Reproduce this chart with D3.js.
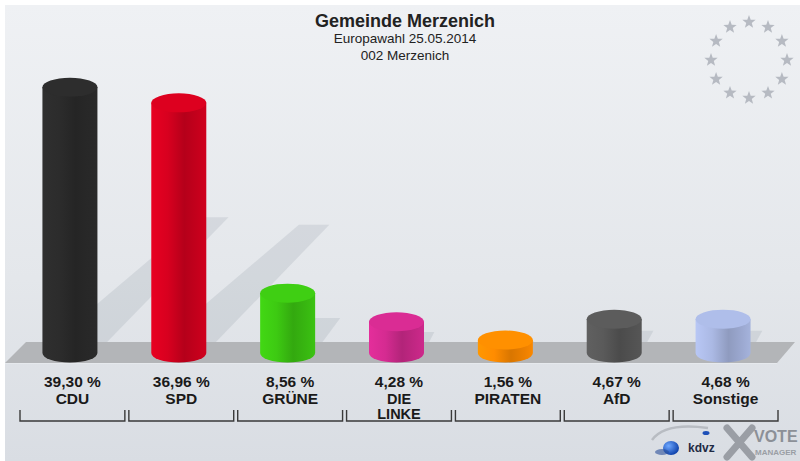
<!DOCTYPE html>
<html>
<head>
<meta charset="utf-8">
<script src="https://cdn.jsdelivr.net/npm/d3@7/dist/d3.min.js"></script>
<style>
  html, body { margin: 0; padding: 0; background: #ffffff; }
  svg { display: block; }
  text { font-family: "Liberation Sans", Arial, Helvetica, sans-serif; }
</style>
</head>
<body>
<svg id="chart" width="800" height="461"></svg>
<script>
// ---- data ----
const categories = ["CDU", "SPD", "GRÜNE", "DIE LINKE", "PIRATEN", "AfD", "Sonstige"];
const values = [39.30, 36.96, 8.56, 4.28, 1.56, 4.67, 4.68];
const valueLabels = ["39,30 %", "36,96 %", "8,56 %", "4,28 %", "1,56 %", "4,67 %", "4,68 %"];
const colors = ["#2b2b2b", "#d4001e", "#3cc612", "#d12a8e", "#ff8a00", "#585858", "#a8b6e0"];
const titleLines = ["Gemeinde Merzenich", "Europawahl 25.05.2014", "002 Merzenich"];

const W = 800, H = 461;
const svg = d3.select("#chart");
const defs = svg.append("defs");

// background
const bg = defs.append("linearGradient").attr("id", "bg").attr("x1", 0).attr("y1", 0).attr("x2", 0).attr("y2", 1);
bg.append("stop").attr("offset", 0).attr("stop-color", "#eff1f4");
bg.append("stop").attr("offset", 0.6).attr("stop-color", "#e4e7eb");
bg.append("stop").attr("offset", 1).attr("stop-color", "#d9dde3");
svg.append("rect").attr("x", 0).attr("y", 0).attr("width", W).attr("height", H).attr("fill", "#ffffff");
svg.append("rect").attr("x", 5).attr("y", 5).attr("width", W - 5).attr("height", H - 5).attr("fill", "url(#bg)");

// scales
const x = d3.scaleBand().domain(categories).range([18, 780]).padding(0);
const y = d3.scaleLinear().domain([0, 40]).range([350.5, 82.5]);
const barW = 55, rx = barW / 2, ry = 9.5;
const baseY = 353;     // bottom ellipse centre
const floorTop = 342, floorBottom = 363;
const cx = c => x(c) + x.bandwidth() / 2 - 2.5;

// shadows
const shadowG = svg.append("g");
categories.forEach((c, i) => {
  const xl = cx(c) - rx, xr = cx(c) + rx;
  const top = y(values[i]);
  const dy = 0.49 * (floorTop - top);
  const pts = [
    [xl - 2, floorTop + 10],
    [xr, floorTop + 10],
    [xr + 1.05 * dy, floorTop - dy],
    [xl + 1.26 * dy, floorTop - dy]
  ];
  shadowG.append("polygon")
    .attr("points", pts.map(p => p.join(",")).join(" "))
    .attr("fill", "rgb(120,128,140)")
    .attr("fill-opacity", 0.16);
});

// floor band
svg.append("polygon")
  .attr("points", [[5, floorBottom], [777, floorBottom], [795, floorTop], [26, floorTop]].map(p => p.join(",")).join(" "))
  .attr("fill", "#b3b5b8");
svg.append("line").attr("x1", 5).attr("x2", 777).attr("y1", floorBottom + 0.5).attr("y2", floorBottom + 0.5)
  .attr("stroke", "#e6e9ed").attr("stroke-width", 1);

// bars (cylinders)
categories.forEach((c, i) => {
  const col = d3.color(colors[i]);
  const gid = "g" + i;
  const g = defs.append("linearGradient").attr("id", gid).attr("x1", 0).attr("x2", 1).attr("y1", 0).attr("y2", 0);
  g.append("stop").attr("offset", 0).attr("stop-color", col.brighter(0.25));
  g.append("stop").attr("offset", 0.3).attr("stop-color", col.brighter(0.05));
  g.append("stop").attr("offset", 0.6).attr("stop-color", col.darker(0.45));
  g.append("stop").attr("offset", 0.85).attr("stop-color", col.darker(0.2));
  g.append("stop").attr("offset", 1).attr("stop-color", col.darker(0.05));
  const xl = cx(c) - rx, xr = cx(c) + rx;
  const top = y(values[i]);
  svg.append("path")
    .attr("d", `M${xl},${top} L${xl},${baseY} A${rx},${ry} 0 0 0 ${xr},${baseY} L${xr},${top} Z`)
    .attr("fill", `url(#${gid})`);
  svg.append("ellipse")
    .attr("cx", cx(c)).attr("cy", top).attr("rx", rx).attr("ry", ry)
    .attr("fill", col.brighter(0.12));
});

// labels
const lab = svg.append("g").attr("fill", "#1a1a1a").attr("font-weight", "bold").attr("text-anchor", "middle");
categories.forEach((c, i) => {
  const mx = x(c) + x.bandwidth() / 2;
  lab.append("text").attr("x", mx).attr("y", 387).attr("font-size", "15.5px").text(valueLabels[i]);
  const words = c.split(" ");
  const fs = words.length > 1 ? 14.5 : 15.5;
  words.forEach((w, k) => {
    lab.append("text").attr("x", mx).attr("y", 404 + k * 15).attr("font-size", fs + "px").text(w);
  });
});

// brackets
const br = svg.append("g").attr("stroke", "#3a3a3a").attr("stroke-width", 1.4).attr("fill", "none");
categories.forEach(c => {
  const l = x(c) + 2, r = x(c) + x.bandwidth() - 2;
  br.append("path").attr("d", `M${l},410 L${l},421 L${r},421 L${r},410`);
});

// title
svg.append("text").attr("x", 405).attr("y", 27).attr("text-anchor", "middle")
  .attr("font-size", "18px").attr("font-weight", "bold").attr("fill", "#222").text(titleLines[0]);
svg.append("text").attr("x", 405).attr("y", 43).attr("text-anchor", "middle")
  .attr("font-size", "13.5px").attr("fill", "#222").text(titleLines[1]);
svg.append("text").attr("x", 405).attr("y", 60).attr("text-anchor", "middle")
  .attr("font-size", "13.5px").attr("fill", "#222").text(titleLines[2]);

// EU stars
function starPath(cxs, cys, R, r) {
  const pts = [];
  for (let k = 0; k < 10; k++) {
    const a = -Math.PI / 2 + k * Math.PI / 5;
    const rr = k % 2 === 0 ? R : r;
    pts.push([cxs + rr * Math.cos(a), cys + rr * Math.sin(a)]);
  }
  return "M" + pts.map(p => p.join(",")).join("L") + "Z";
}
const starG = svg.append("g").attr("fill", "#b6bac2");
d3.range(12).forEach(k => {
  const a = -Math.PI / 2 + k * Math.PI / 6;
  starG.append("path").attr("d", starPath(749 + 38 * Math.cos(a), 60 + 38 * Math.sin(a), 7, 2.9));
});

// logo (kdvz / VOTE MANAGER)
const logo = svg.append("g");
logo.append("path").attr("d", "M652,440 Q665,422 708,428").attr("fill", "none").attr("stroke", "#b8bcc2").attr("stroke-width", 2.5);
const sph = defs.append("radialGradient").attr("id", "sph").attr("cx", 0.35).attr("cy", 0.35).attr("r", 0.7);
sph.append("stop").attr("offset", 0).attr("stop-color", "#6fa8ff");
sph.append("stop").attr("offset", 1).attr("stop-color", "#0b3ea8");
logo.append("ellipse").attr("cx", 671).attr("cy", 448).attr("rx", 8).attr("ry", 7).attr("fill", "url(#sph)");
logo.append("ellipse").attr("cx", 662).attr("cy", 452).attr("rx", 7).attr("ry", 3).attr("fill", "#2a4f9a").attr("opacity", 0.6);
logo.append("ellipse").attr("cx", 706).attr("cy", 433).attr("rx", 3.5).attr("ry", 2).attr("fill", "#1e50b8");
logo.append("text").attr("x", 688).attr("y", 452).attr("font-size", "12px").attr("font-weight", "bold")
  .attr("font-family", "'Liberation Serif', serif").attr("fill", "#1f2a44").text("kdvz");
logo.append("path").attr("d", "M727,428 L752,457 M752,428 L727,457").attr("stroke", "#9a9ea5").attr("stroke-width", 7).attr("stroke-linecap", "round");
logo.append("text").attr("x", 754).attr("y", 442).attr("font-size", "16px").attr("font-weight", "bold").attr("fill", "#8c9097").text("VOTE");
logo.append("text").attr("x", 755).attr("y", 455).attr("font-size", "8px").attr("font-weight", "bold").attr("fill", "#9a9ea5").text("MANAGER");
</script>
</body>
</html>
